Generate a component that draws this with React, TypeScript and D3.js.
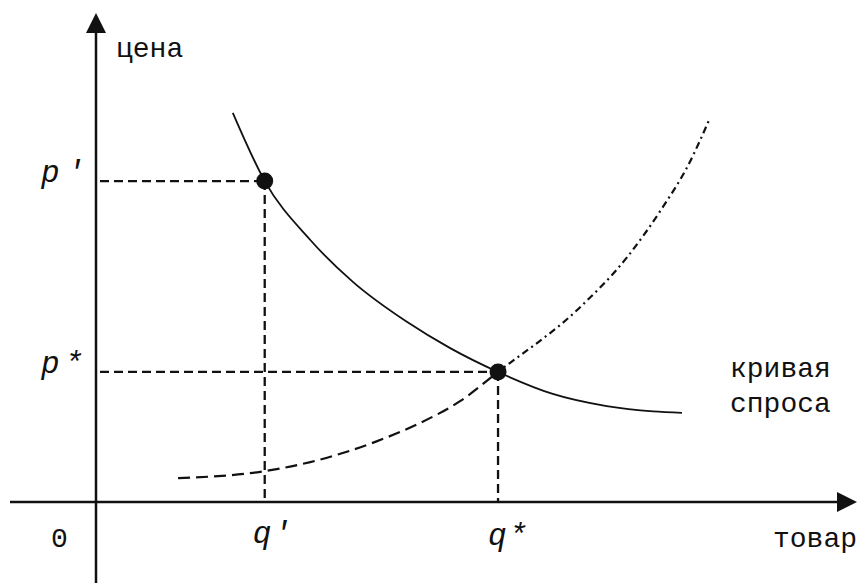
import React from "react";
import * as d3 from "d3";

// Demand curve: quantity / price pairs
const demandQ = [18.0, 22.2, 28.2, 33.8, 40.9, 46.6, 52.9, 60.1, 67.2, 73.3, 77.1];
const demandP = [79.9, 65.9, 53.8, 45.2, 37.0, 31.6, 26.7, 22.2, 19.7, 18.6, 18.3];

// Supply curve: quantity / price pairs
const supplyQ = [10.8, 21.6, 28.2, 37.0, 42.6, 47.9, 52.9, 63.7, 69.9, 74.6, 77.8, 80.8];
const supplyP = [4.9, 6.2, 8.2, 12.5, 16.2, 20.7, 26.7, 40.0, 50.3, 60.6, 68.8, 78.9];

// Marked points: p' at q', and the equilibrium p* at q*
const qPrime = 22.2;
const pPrime = 65.9;
const qStar = 52.9;
const pStar = 26.7;

const axisLabelY = "цена";
const axisLabelX = "товар";
const curveLabel = ["кривая", "спроса"];
const originLabel = "0";

const W = 858;
const H = 583;

export default function App() {
  const x = d3.scaleLinear().domain([0, 100]).range([96, 856]);
  const y = d3.scaleLinear().domain([0, 100]).range([502, 15]);

  const demand = demandQ.map((q, i) => [q, demandP[i]] as [number, number]);
  const supply = supplyQ.map((q, i) => [q, supplyP[i]] as [number, number]);

  const line = d3
    .line<[number, number]>()
    .x((d) => x(d[0]))
    .y((d) => y(d[1]))
    .curve(d3.curveMonotoneX);

  const x0 = x(0);
  const y0 = y(0);
  const xs = x(qStar);
  const ink = "#111";
  const font = "'Liberation Mono', 'Courier New', monospace";
  const fs = 28;
  const supplyPath = line(supply) ?? "";

  return (
    <svg
      width={W}
      height={H}
      viewBox={`0 0 ${W} ${H}`}
      style={{ position: "absolute", left: 0, top: 0, background: "#fff" }}
    >
      <defs>
        <clipPath id="supply-low">
          <rect x={0} y={0} width={xs} height={H} />
        </clipPath>
        <clipPath id="supply-high">
          <rect x={xs} y={0} width={W - xs} height={H} />
        </clipPath>
      </defs>
      <rect x={0} y={0} width={W} height={H} fill="#fff" />

      {/* axes */}
      <line x1={x0} y1={H} x2={x0} y2={y(100) + 18} stroke={ink} strokeWidth={2.5} />
      <path d={`M${x0},${y(100) - 2} L${x0 - 10},${y(100) + 18} L${x0 + 10},${y(100) + 18} Z`} fill={ink} />
      <line x1={10} y1={y0} x2={x(100) - 19} y2={y0} stroke={ink} strokeWidth={2.5} />
      <path d={`M${x(100) + 1},${y0} L${x(100) - 19},${y0 - 10} L${x(100) - 19},${y0 + 10} Z`} fill={ink} />

      {/* guide lines */}
      <g stroke={ink} strokeWidth={2.3} strokeDasharray="9,5" fill="none">
        <line x1={x0 + 4} y1={y(pPrime)} x2={x(qPrime)} y2={y(pPrime)} />
        <line x1={x(qPrime)} y1={y(pPrime)} x2={x(qPrime)} y2={y0} />
        <line x1={x0 + 4} y1={y(pStar)} x2={xs} y2={y(pStar)} />
        <line x1={xs} y1={y(pStar)} x2={xs} y2={y0} />
      </g>

      {/* supply curve: long dashes below the equilibrium, dash-dot above */}
      <path d={supplyPath} fill="none" stroke={ink} strokeWidth={2.2} strokeDasharray="12,6" clipPath="url(#supply-low)" />
      <path d={supplyPath} fill="none" stroke={ink} strokeWidth={2.2} strokeDasharray="7,4,2,4" clipPath="url(#supply-high)" />

      {/* demand curve */}
      <path d={line(demand) ?? ""} fill="none" stroke={ink} strokeWidth={1.8} />

      {/* marked points */}
      <circle cx={x(qPrime)} cy={y(pPrime)} r={8.5} fill={ink} />
      <circle cx={xs} cy={y(pStar)} r={8.5} fill={ink} />

      {/* labels */}
      <g fontFamily={font} fontSize={fs} fill={ink}>
        <text x={x0 + 20} y={57}>{axisLabelY}</text>
        <text x={773} y={y0 + 45}>{axisLabelX}</text>
        <text x={x0 - 45} y={y0 + 45}>{originLabel}</text>
        <text x={730} y={377}>{curveLabel[0]}</text>
        <text x={730} y={412}>{curveLabel[1]}</text>

        <g fontSize={31} fontStyle="italic">
          <text x={41} y={y(pPrime) + 1}>
            p<tspan dx={7}>'</tspan>
          </text>
          <text x={41} y={y(pStar) + 1}>
            p<tspan dx={5}>*</tspan>
          </text>
          <text x={x(qPrime) - 12} y={y0 + 41}>
            q<tspan dx={2}>'</tspan>
          </text>
          <text x={xs - 10} y={y0 + 43}>
            q<tspan dx={2}>*</tspan>
          </text>
        </g>
      </g>
    </svg>
  );
}
